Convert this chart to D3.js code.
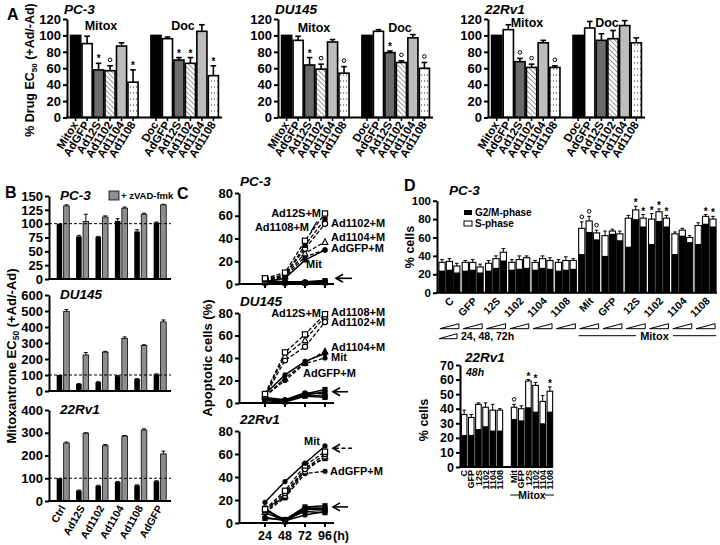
<!DOCTYPE html>
<html><head><meta charset="utf-8">
<script src="https://cdn.jsdelivr.net/npm/d3@7"></script>
<style>
body{margin:0;background:#fff}
svg text{font-family:'Liberation Sans',Arial,Helvetica,sans-serif;font-weight:bold;fill:#000}
</style></head><body>
<svg id="c" width="720" height="545"></svg>
<script>
// ================= DATA =================
// Panel A
const aMitoxLabels = ["Mitox","AdGFP","Ad12S","Ad1102","Ad1104","Ad1108"];
const aDocLabels = ["Doc","AdGFP","Ad12S","Ad1102","Ad1104","Ad1108"];
const aTicks = [0,20,40,60,80,100,120];
const aPC3Mitox = [100,90,58,57,87,43];
const aPC3MitoxErr = [0,9,8,6,4,15];
const aPC3MitoxSig = ["","","*","°","","*"];
const aPC3Doc = [100,96,70,66,105,51];
const aPC3DocErr = [0,2,3,7,8,12];
const aPC3DocSig = ["","","*","*","","*"];
const aDUMitox = [100,94,64,59,92,54];
const aDUMitoxErr = [0,5,9,6,3,8];
const aDUMitoxSig = ["","","*","°","","°"];
const aDUDoc = [100,105,79,67,97,60];
const aDUDocErr = [0,2,2,2,4,7];
const aDUDocSig = ["","","*","°","","°"];
const a22Mitox = [100,107,68,61,91,61];
const a22MitoxErr = [0,6,4,4,3,2];
const a22MitoxSig = ["","","°","°","","°"];
const a22Doc = [100,109,94,96,112,91];
const a22DocErr = [0,8,8,10,6,6];
const a22DocSig = ["","","","","",""];

// Panel B
const bCats = ["Ctrl","Ad12S","Ad1102","Ad1104","Ad1108","AdGFP"];
const bPC3Ticks = [0,25,50,75,100,125,150];
const bPC3Black = [100,77,76,105,86,102];
const bPC3BlackErr = [0,2,1,4,3,1];
const bPC3Grey = [132,104,112,128,117,134];
const bPC3GreyErr = [2,13,2,2,2,1];
const bDUTicks = [0,100,200,300,400,500,600];
const bDUBlack = [100,44,56,93,75,104];
const bDUBlackErr = [0,2,2,3,2,3];
const bDUGrey = [497,225,243,328,284,432];
const bDUGreyErr = [12,15,5,10,5,12];
const b22Ticks = [0,100,200,300,400];
const b22Black = [100,46,67,84,69,87];
const b22BlackErr = [0,2,2,2,2,2];
const b22Grey = [255,298,243,285,312,207];
const b22GreyErr = [4,2,5,3,5,12];

// Panel C (apoptotic cells %, at 24/48/72/96 h)
const cHours = [24,48,72,96];
const cTicks = [0,20,40,60,80];
const cPC3Series = [
  {name:"Ad12S+M", m:"sq", dash:true, v:[5,10,38,62]},
  {name:"Ad1108+M", m:"fsq", dash:true, v:[4,8,34,57]},
  {name:"Ad1102+M", m:"oc", dash:true, v:[4,8,31,53]},
  {name:"Ad1104+M", m:"tri", dash:true, v:[3,7,27,37]},
  {name:"AdGFP+M", m:"fc", dash:true, v:[3,6,24,30]},
  {name:"Mit", m:"fc", dash:false, v:[2,5,21,30]},
  {name:"Ad12S", m:"fsq", dash:false, v:[1,1,1,2]},
  {name:"Ad1102", m:"fc", dash:false, v:[2,1,2,3]},
  {name:"Ad1104", m:"fsq", dash:false, v:[1,2,1,3]},
  {name:"Ad1108", m:"fc", dash:false, v:[3,2,2,2]},
  {name:"AdGFP", m:"fsq", dash:false, v:[2,1,1,1]}
];
const cDUSeries = [
  {name:"Ad12S+M", m:"sq", dash:true, v:[8,45,61,79]},
  {name:"Ad1108+M", m:"tri", dash:true, v:[7,42,56,77]},
  {name:"Ad1102+M", m:"oc", dash:true, v:[6,38,50,72]},
  {name:"Ad1104+M", m:"ftri", dash:true, v:[6,22,36,46]},
  {name:"Mit", m:"fc", dash:false, v:[8,25,37,44]},
  {name:"AdGFP+M", m:"fc", dash:true, v:[6,20,35,40]},
  {name:"Ad12S", m:"fsq", dash:false, v:[3,2,8,12]},
  {name:"Ad1102", m:"fc", dash:false, v:[4,2,7,10]},
  {name:"Ad1104", m:"fsq", dash:false, v:[2,1,6,5]},
  {name:"Ad1108", m:"fc", dash:false, v:[5,3,9,8]},
  {name:"AdGFP", m:"fsq", dash:false, v:[3,2,7,6]}
];
const c22Series = [
  {name:"Mit", m:"fc", dash:false, v:[18,36,52,67]},
  {name:"Ad12S+M", m:"sq", dash:true, v:[12,28,50,62]},
  {name:"Ad1102+M", m:"oc", dash:true, v:[11,26,47,60]},
  {name:"Ad1104+M", m:"tri", dash:true, v:[10,24,45,58]},
  {name:"Ad1108+M", m:"fsq", dash:true, v:[13,22,48,56]},
  {name:"AdGFP+M", m:"fc", dash:true, v:[9,22,43,45]},
  {name:"Ad12S", m:"fsq", dash:false, v:[11,3,14,15]},
  {name:"Ad1102", m:"fc", dash:false, v:[9,2,13,13]},
  {name:"Ad1104", m:"fsq", dash:false, v:[12,1,12,11]},
  {name:"Ad1108", m:"fc", dash:false, v:[5,2,7,10]},
  {name:"AdGFP", m:"fsq", dash:false, v:[4,3,10,9]},
  {name:"Ctrl", m:"fc", dash:false, v:[13,1,13,12]}
];

// Panel D
const dCond = ["C","GFP","12S","1102","1104","1108","Mit","GFP","12S","1102","1104","1108"];
const dPC3Ticks = [0,20,40,60,80,100];
const dPC3Total = [[33,34,29],[33,33,28],[32,37,44],[33,36,38],[33,37,35],[33,35,35],[70,78,65],[62,67,64],[81,90,81],[80,88,81],[64,68,60],[73,83,80]];
const dPC3G2M = [[24,25,22],[24,25,22],[24,27,35],[25,26,27],[25,27,26],[24,25,26],[42,66,58],[40,64,57],[50,80,72],[53,78,72],[42,62,55],[53,75,72]];
const dPC3Err = [[3,3,3],[2,3,3],[3,3,4],[3,4,2],[2,3,3],[3,4,2],[7,5,3],[5,2,3],[3,4,4],[6,3,3],[2,2,2],[3,2,3]];
const dPC3Sig = [["","",""],["","",""],["","",""],["","",""],["","",""],["","",""],["°","°","°"],["","",""],["","*","*"],["*","*","*"],["","",""],["","*","*"]];
const d22Ticks = [0,10,20,30,40,50,60,70];
const d22Total = [36,34,43,41,39,39,41,40,59,56,45,52];
const d22G2M = [22,22,26,28,25,25,33,32,41,38,30,38];
const d22Err = [3,2,1,3,4,1,2,2,1,2,4,3];
const d22Sig = ["","","","","","","°","","*","*","","*"];

// ================= DRAWING =================
const FONT = "'Liberation Sans', Arial, Helvetica, sans-serif";
const svg = d3.select("#c");
const defs = svg.append("defs");
const hatch = defs.append("pattern").attr("id","hatch").attr("patternUnits","userSpaceOnUse")
  .attr("width",3.5).attr("height",3.5).attr("patternTransform","rotate(-45)");
hatch.append("rect").attr("width",3.5).attr("height",3.5).attr("fill","#fff");
hatch.append("line").attr("x1",0).attr("y1",0).attr("x2",0).attr("y2",3.5).attr("stroke","#444").attr("stroke-width",1.1);
const dots = defs.append("pattern").attr("id","dots").attr("patternUnits","userSpaceOnUse")
  .attr("width",3).attr("height",6);
dots.append("rect").attr("width",3).attr("height",6).attr("fill","#fff");
dots.append("circle").attr("cx",1.5).attr("cy",3).attr("r",0.7).attr("fill","#555");
const aFills = ["#000","#fff","#6b6b6b","url(#hatch)","#bdbdbd","url(#dots)"];

function yAxis(scale, ticks, x, fs, ts){
  const g = svg.append("g").attr("transform",`translate(${x},0)`)
    .call(d3.axisLeft(scale).tickValues(ticks).tickSize(ts||4).tickSizeOuter(0).tickPadding(2).tickFormat(d3.format("d")));
  g.attr("font-family",FONT).attr("font-size",fs).attr("font-weight","bold");
  g.select(".domain").attr("stroke-width",2);
  g.selectAll(".tick line").attr("stroke-width",2);
  return g;
}
function hLine(x1,x2,y,w){
  svg.append("line").attr("x1",x1).attr("x2",x2).attr("y1",y).attr("y2",y).attr("stroke","#000").attr("stroke-width",w||2);
}
function txt(x,y,s,fs,opt){
  opt = opt||{};
  const t = svg.append("text").attr("x",x).attr("y",y).attr("font-size",fs).text(s);
  if(opt.anchor) t.attr("text-anchor",opt.anchor);
  if(opt.italic) t.attr("font-style","italic");
  if(opt.rot!==undefined) t.attr("transform",`rotate(${opt.rot},${x},${y})`);
  return t;
}
function sig(x,y,s){
  if(s==="*") txt(x,y+4,"*",10,{anchor:"middle"});
  else if(s==="°") svg.append("circle").attr("cx",x).attr("cy",y-1).attr("r",1.8).attr("fill","none").attr("stroke","#000").attr("stroke-width",1);
}
function errBar(cx,yTop,yEnd,hw,w){
  svg.append("line").attr("x1",cx).attr("x2",cx).attr("y1",yTop).attr("y2",yEnd).attr("stroke","#000").attr("stroke-width",w||1.5);
  svg.append("line").attr("x1",cx-hw).attr("x2",cx+hw).attr("y1",yEnd).attr("y2",yEnd).attr("stroke","#000").attr("stroke-width",w||1.5);
}

// ---------- Panel A ----------
const aY0 = 117.5, aY120 = 19;
function panelA(p){
  const x = d3.scaleBand().domain(d3.range(13)).range([p.ax+3, p.ax+p.w-3]).paddingInner(0.12).paddingOuter(0.05);
  const y = d3.scaleLinear().domain([0,120]).range([aY0,aY120]);
  const rows = [];
  p.mitox.forEach((v,i)=>rows.push({k:i,v,e:p.mitoxErr[i],s:p.mitoxSig[i],lab:aMitoxLabels[i],f:aFills[i]}));
  p.doc.forEach((v,i)=>rows.push({k:7+i,v,e:p.docErr[i],s:p.docSig[i],lab:aDocLabels[i],f:aFills[i]}));
  rows.forEach(r=>{
    const cx = x(r.k)+x.bandwidth()/2;
    if(r.e>0) errBar(cx,y(r.v),y(r.v+r.e),2.8,1.6);
    svg.append("rect").attr("x",x(r.k)).attr("y",y(r.v)).attr("width",x.bandwidth()).attr("height",aY0-y(r.v))
      .attr("fill",r.f).attr("stroke","#000").attr("stroke-width",1.6);
    if(r.s) sig(cx,y(r.v+r.e)-5,r.s);
    svg.append("line").attr("x1",cx).attr("x2",cx).attr("y1",aY0).attr("y2",aY0+3.5).attr("stroke","#000").attr("stroke-width",1.5);
    txt(cx+3,aY0+7,r.lab,11.5,{anchor:"end",rot:-58});
  });
  yAxis(y,aTicks,p.ax,13);
  hLine(p.ax-1,p.ax+p.w,aY0);
  txt(p.ax-3,14,p.title,13.5,{italic:true});
  txt(p.mx,p.gy,"Mitox",12.5,{anchor:"middle"});
  txt(p.dx,p.gy,"Doc",12.5,{anchor:"middle"});
}
panelA({ax:67,w:155,title:"PC-3",mitox:aPC3Mitox,mitoxErr:aPC3MitoxErr,mitoxSig:aPC3MitoxSig,doc:aPC3Doc,docErr:aPC3DocErr,docSig:aPC3DocSig,mx:101,dx:183,gy:30});
panelA({ax:278,w:155,title:"DU145",mitox:aDUMitox,mitoxErr:aDUMitoxErr,mitoxSig:aDUMitoxSig,doc:aDUDoc,docErr:aDUDocErr,docSig:aDUDocSig,mx:314,dx:400,gy:32});
panelA({ax:488,w:157,title:"22Rv1",mitox:a22Mitox,mitoxErr:a22MitoxErr,mitoxSig:a22MitoxSig,doc:a22Doc,docErr:a22DocErr,docSig:a22DocSig,mx:527,dx:607,gy:27});
txt(7,20,"A",16);
{
  const t = svg.append("text").attr("transform","translate(34,70) rotate(-90)").attr("text-anchor","middle").attr("font-size",12.5);
  t.append("tspan").text("% Drug EC");
  t.append("tspan").attr("font-size",8).attr("dy",3).text("50");
  t.append("tspan").attr("dy",-3).text(" (+Ad/-Ad)");
}

// ---------- Panel B ----------
function panelB(p){
  const x0 = d3.scaleBand().domain(bCats).range([p.ax+3.3,p.ax+121.6]).padding(0.1);
  const x1 = d3.scaleBand().domain(["b","g"]).range([0,x0.bandwidth()]).paddingInner(0.2).paddingOuter(0.35);
  const y = d3.scaleLinear().domain([0,p.max]).range([p.y0,p.ytop]);
  bCats.forEach((c,i)=>{
    [["b",p.black[i],p.blackErr[i],"#000"],["g",p.grey[i],p.greyErr[i],"#8e8e8e"]].forEach(([k,v,e,f])=>{
      const bx = x0(c)+x1(k), cx = bx+x1.bandwidth()/2;
      if(e>0) errBar(cx,y(v),y(v+e),2,1);
      svg.append("rect").attr("x",bx).attr("y",y(v)).attr("width",x1.bandwidth()).attr("height",p.y0-y(v))
        .attr("fill",f).attr("stroke","#000").attr("stroke-width",k==="g"?0.8:0);
    });
    if(p.labels) txt(x0(c)+x0.bandwidth()/2+3,p.y0+7,c,10.5,{anchor:"end",rot:-60});
  });
  svg.append("line").attr("x1",p.ax).attr("x2",p.ax+122).attr("y1",y(100)).attr("y2",y(100))
    .attr("stroke","#000").attr("stroke-width",1).attr("stroke-dasharray","3,2");
  yAxis(y,p.ticks,p.ax,13);
  hLine(p.ax-1,p.ax+122,p.y0);
  txt(p.ax+11,p.ytop+4,p.title,13.5,{italic:true});
}
panelB({ax:49,y0:279,ytop:196,max:150,ticks:bPC3Ticks,black:bPC3Black,blackErr:bPC3BlackErr,grey:bPC3Grey,greyErr:bPC3GreyErr,title:"PC-3"});
panelB({ax:49,y0:391,ytop:295,max:600,ticks:bDUTicks,black:bDUBlack,blackErr:bDUBlackErr,grey:bDUGrey,greyErr:bDUGreyErr,title:"DU145"});
panelB({ax:49,y0:501,ytop:410,max:400,ticks:b22Ticks,black:b22Black,blackErr:b22BlackErr,grey:b22Grey,greyErr:b22GreyErr,title:"22Rv1",labels:true});
txt(5,198,"B",16);
svg.append("rect").attr("x",109).attr("y",191).attr("width",10).attr("height",9).attr("fill","#8e8e8e").attr("stroke","#000").attr("stroke-width",0.8);
txt(121,199,"+ zVAD-fmk",9.5);
{
  const t = svg.append("text").attr("transform","translate(16,356) rotate(-90)").attr("text-anchor","middle").attr("font-size",13);
  t.append("tspan").text("Mitoxantrone EC");
  t.append("tspan").attr("font-size",8.5).attr("dy",3).text("50");
  t.append("tspan").attr("dy",-3).text("  (+Ad/-Ad)");
}

// ---------- Panel C ----------
const cx = d3.scaleLinear().domain([24,96]).range([265,325]);
function marker(g,x,y,m){
  const s = 2.6;
  if(m==="sq") g.append("rect").attr("x",x-s).attr("y",y-s).attr("width",2*s).attr("height",2*s).attr("fill","#fff").attr("stroke","#000").attr("stroke-width",1.2);
  else if(m==="fsq") g.append("rect").attr("x",x-s).attr("y",y-s).attr("width",2*s).attr("height",2*s).attr("fill","#000");
  else if(m==="oc") g.append("circle").attr("cx",x).attr("cy",y).attr("r",s).attr("fill","#fff").attr("stroke","#000").attr("stroke-width",1.2);
  else if(m==="fc") g.append("circle").attr("cx",x).attr("cy",y).attr("r",s).attr("fill","#000");
  else if(m==="tri"||m==="ftri") g.append("path").attr("d",`M${x},${y-s-0.5}L${x+s+0.3},${y+s}L${x-s-0.3},${y+s}Z`)
    .attr("fill",m==="tri"?"#fff":"#000").attr("stroke","#000").attr("stroke-width",1.1);
}
function arrow(x1,x2,y,dashed){
  svg.append("line").attr("x1",x1).attr("x2",x2).attr("y1",y).attr("y2",y).attr("stroke","#000").attr("stroke-width",1.6)
    .attr("stroke-dasharray",dashed?"4,2.5":null);
  svg.append("path").attr("d",`M${x2+7},${y-4}L${x2},${y}L${x2+7},${y+4}`).attr("fill","none").attr("stroke","#000").attr("stroke-width",1.6);
}
function panelC(p){
  const y = d3.scaleLinear().domain([0,80]).range([p.y0,p.y80]);
  const g = svg.append("g");
  const line = d3.line().x((d,i)=>cx(cHours[i])).y(d=>y(d));
  p.series.slice().reverse().forEach(s=>{
    g.append("path").attr("d",line(s.v)).attr("fill","none").attr("stroke","#000")
      .attr("stroke-width",s.dash?1.3:1.5).attr("stroke-dasharray",s.dash?"4,2":null);
    s.v.forEach((v,i)=>marker(g,cx(cHours[i]),y(v),s.m));
  });
  yAxis(y,cTicks,239,13);
  hLine(238,334,p.y0);
  cHours.forEach(h=>svg.append("line").attr("x1",cx(h)).attr("x2",cx(h)).attr("y1",p.y0).attr("y2",p.y0+4).attr("stroke","#000").attr("stroke-width",2));
  if(p.xlabels){
    cHours.forEach(h=>txt(cx(h),p.y0+17,String(h),12.5,{anchor:"middle"}));
    txt(333,p.y0+17,"(h)",12.5);
  }
  txt(240,p.y80-7,p.title,13.5,{italic:true});
  p.notes.forEach(n=>txt(n[0],y(n[1])+4,n[2],11,{anchor:n[3]||"start"}));
  return y;
}
const yC1 = panelC({y0:284,y80:193,series:cPC3Series,title:"PC-3",notes:[[321,62,"Ad12S+M","end"],[309,50,"Ad1108+M","end"],[331,54,"Ad1102+M"],[331,41,"Ad1104+M"],[331,32,"AdGFP+M"],[306,18,"Mit"]]});
svg.append("line").attr("x1",311).attr("y1",yC1(46)).attr("x2",317).attr("y2",yC1(55)).attr("stroke","#000").attr("stroke-width",1.2);
arrow(352,336,yC1(5));
const yC2 = panelC({y0:403,y80:313,series:cDUSeries,title:"DU145",notes:[[321,80,"Ad12S+M","end"],[331,81,"Ad1108+M"],[331,72,"Ad1102+M"],[331,50,"Ad1104+M"],[331,41,"Mit"],[303,27,"AdGFP+M"]]});
arrow(348,333,yC2(10));
const yC3 = panelC({y0:523,y80:431,series:c22Series,title:"22Rv1",xlabels:true,notes:[[320,71,"Mit","end"],[330,45,"AdGFP+M"]]});
arrow(352,333,yC3(65),true);
arrow(348,333,yC3(14));
txt(177,199,"C",16);
txt(212,358,"Apoptotic cells (%)",13,{anchor:"middle",rot:-90});

// ---------- Panel D ----------
// PC-3
{
  const ax = 437, y0 = 292.7;
  const y = d3.scaleLinear().domain([0,100]).range([y0,200.7]);
  const xg = d3.scaleBand().domain(d3.range(12)).range([ax+1,717]).paddingInner(0.1).paddingOuter(0.04);
  const xb = d3.scaleBand().domain([0,1,2]).range([0,xg.bandwidth()]).paddingInner(0.16);
  dCond.forEach((c,i)=>{
    [0,1,2].forEach(j=>{
      const bx = xg(i)+xb(j), w = xb.bandwidth(), cxx = bx+w/2;
      const tot = dPC3Total[i][j], g2 = dPC3G2M[i][j], e = dPC3Err[i][j];
      errBar(cxx,y(tot),y(tot+e),1.8,1);
      svg.append("rect").attr("x",bx).attr("y",y(tot)).attr("width",w).attr("height",y0-y(tot)).attr("fill","#fff").attr("stroke","#000").attr("stroke-width",1.1);
      svg.append("rect").attr("x",bx).attr("y",y(g2)).attr("width",w).attr("height",y0-y(g2)).attr("fill","#000");
      if(dPC3Sig[i][j]) sig(cxx,y(tot+e)-4,dPC3Sig[i][j]);
    });
    const gc = xg(i)+xg.bandwidth()/2;
    txt(gc+5,y0+9,c,10.5,{anchor:"end",rot:-45});
    const w0 = xg(i)+1, w1 = xg(i)+xg.bandwidth()-1;
    svg.append("path").attr("d",`M${w0},${y0+36}L${w1},${y0+31}L${w1},${y0+36}Z`).attr("fill","none").attr("stroke","#000").attr("stroke-width",1);
  });
  yAxis(y,dPC3Ticks,ax,11.5);
  hLine(ax-1,717,y0);
  svg.append("path").attr("d",`M${439},${y0+46}L${457},${y0+41}L${457},${y0+46}Z`).attr("fill","none").attr("stroke","#000").attr("stroke-width",1);
  txt(461,y0+47,"24, 48, 72h",10.5);
  hLine(xg(6),636,y0+43,1);
  hLine(673,716,y0+43,1);
  txt(654.5,y0+47,"Mitox",11,{anchor:"middle"});
  txt(449,195,"PC-3",13.5,{italic:true});
  svg.append("rect").attr("x",464).attr("y",210).attr("width",8).attr("height",5).attr("fill","#000");
  txt(475,216,"G2/M-phase",10);
  svg.append("rect").attr("x",464).attr("y",221).attr("width",8).attr("height",5).attr("fill","#fff").attr("stroke","#000").attr("stroke-width",1);
  txt(475,227,"S-phase",10);
  txt(404,191,"D",16);
  txt(414,247,"% cells",12.5,{anchor:"middle",rot:-90});
}
// 22Rv1
{
  const ax = 460, y0 = 467;
  const y = d3.scaleLinear().domain([0,70]).range([y0,365]);
  const keys = [0,1,2,3,4,5,"gap",6,7,8,9,10,11];
  const x = d3.scaleBand().domain(keys).range([ax+1,553]).paddingInner(0.22).paddingOuter(0.05);
  dCond.forEach((c,i)=>{
    const bx = x(i), w = x.bandwidth(), cxx = bx+w/2;
    const tot = d22Total[i], g2 = d22G2M[i], e = d22Err[i];
    errBar(cxx,y(tot),y(tot+e),1.8,1);
    svg.append("rect").attr("x",bx).attr("y",y(tot)).attr("width",w).attr("height",y0-y(tot)).attr("fill","#fff").attr("stroke","#000").attr("stroke-width",1.1);
    svg.append("rect").attr("x",bx).attr("y",y(g2)).attr("width",w).attr("height",y0-y(g2)).attr("fill","#000");
    if(d22Sig[i]) sig(cxx,y(tot+e)-4,d22Sig[i]);
    txt(cxx+3.2,y0+3,c,9,{anchor:"end",rot:-90});
  });
  yAxis(y,d22Ticks,ax,12.5);
  hLine(ax-1,553,y0);
  txt(465,362,"22Rv1",13.5,{italic:true});
  txt(466,376,"48h",10.5,{italic:true});
  hLine(x(6)-1,519,495,1);
  hLine(545,554,495,1);
  txt(532,499,"Mitox",10.5,{anchor:"middle"});
  txt(428,420,"% cells",12.5,{anchor:"middle",rot:-90});
}
</script>
</body></html>
